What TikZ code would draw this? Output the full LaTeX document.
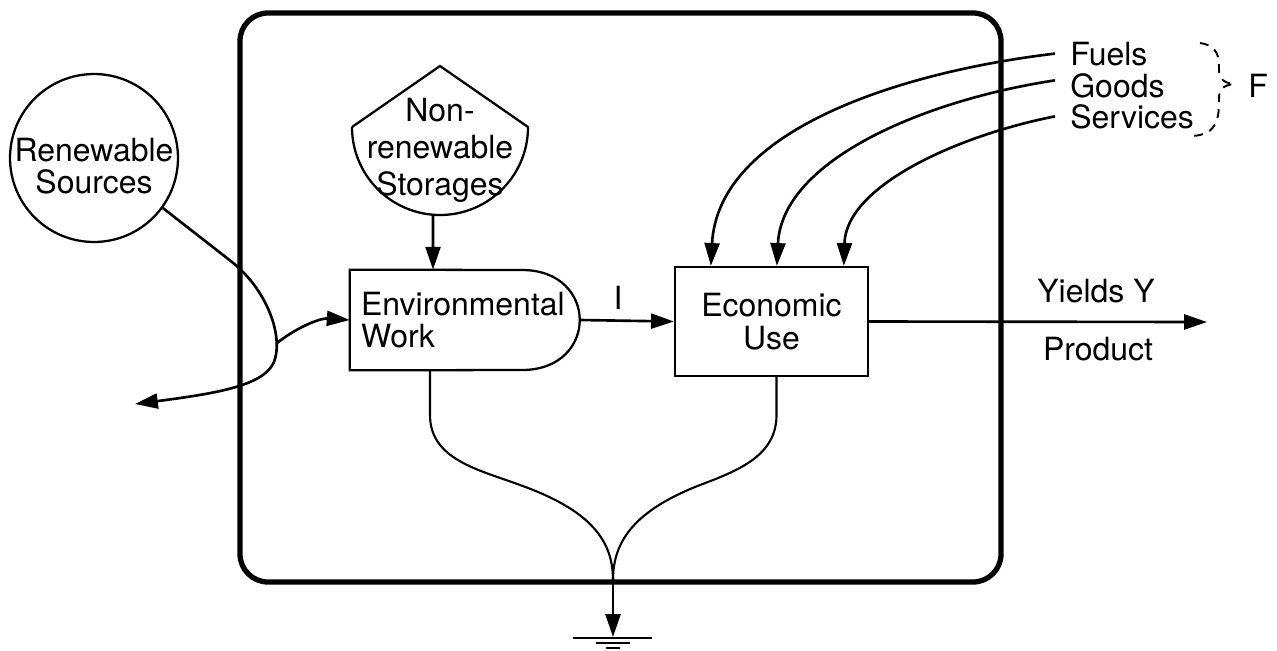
\documentclass[tikz,border=0pt]{standalone}
\usepackage{fontspec}
\setmainfont{TeX Gyre Heros}
\usetikzlibrary{arrows.meta}
\begin{document}
\begin{tikzpicture}[x=0.02cm,y=-0.02cm,
  txt/.style={font=\fontsize{18.2}{18.5}\selectfont, inner sep=0pt},
  flow/.style={line width=1.5pt, -{Triangle[length=13pt,width=8.5pt]}},
  thinline/.style={line width=1.2pt},
  outline/.style={line width=1.3pt},
  bracedash/.style={line width=1.1pt, dash pattern=on 5pt off 4pt}
  ]
\useasboundingbox (0,0) rectangle (1277,650);

% system boundary
\draw[line width=3pt, rounded corners=0.56cm] (240,13) rectangle (1001,582);

% renewable sources
\node[circle, draw, outline, minimum size=3.36cm, inner sep=0pt] (rs) at (94,158) {};
\node[txt, align=center] (rst) at (94,166) {Renewable\\Sources};

% nonrenewable storages (tank)
\draw[outline] (352,127) -- (440,66) -- (528,127)
  .. controls (528,175.6) and (488.6,215) .. (440,215)
  .. controls (391.4,215) and (352,175.6) .. (352,127);
\node[txt, font=\fontsize{18.2}{21}\selectfont, align=center] (nrs) at (440,150) {Non-\\renewable\\Storages};
\coordinate (nrsb) at (433,215);

% environmental work
\node[txt, minimum width=4.6cm, minimum height=2cm, text width=4.16cm, inner xsep=0.22cm, align=left] (ew) at (465,320) {Environmental\\Work};
\draw[outline] (ew.north west) -- (522,270) .. controls (599,270) and (599,370) .. (522,370) -- (ew.south west) -- cycle;

% economic use
\node[txt, draw, outline, minimum width=3.86cm, minimum height=2.18cm, align=center] (eu) at (771.5,321.5) {Economic\\Use};

% flows
\draw[flow] (nrsb) -- ([xshift=-0.64cm]ew.north);
\draw[flow] (ew.east) -- (eu.west);
\node[txt, anchor=base] (lbl) at (618,309) {I};

\coordinate (yend) at (1207,322);
\draw[flow] (eu.east) -- (yend);
\node[txt, anchor=base] (yl) at (1096,302) {Yields Y};
\node[txt, anchor=base] (pl) at (1098,360) {Product};

% renewable loop
\coordinate (lp) at (277,343);
\coordinate (out) at (135,404);
\draw[flow] (rs.-36) -- (232,262) .. controls (266,289) and (284,335) .. (274,362) .. controls (264,385) and (220,393) .. (out);
\draw[flow] (lp) .. controls (300,325) and (322,318) .. (ew.west);

% purchased inputs
\node[txt, anchor=base west] (fu) at (1070,65) {Fuels};
\node[txt, anchor=base west] (go) at (1070,97) {Goods};
\node[txt, anchor=base west] (se) at (1070,128) {Services};
\node[txt, anchor=base west] (ff) at (1248,97) {F};

\draw[flow] ([xshift=-0.3cm]fu.west) .. controls (900,72) and (718,130) .. ([xshift=0.74cm]eu.north west);
\draw[flow] ([xshift=-0.3cm,yshift=0.1cm]go.west) .. controls (925,100) and (782,160) .. ([xshift=2.06cm]eu.north west);
\draw[flow] ([xshift=-0.3cm]se.west) .. controls (960,135) and (846,185) .. ([xshift=3.4cm]eu.north west);

\draw[bracedash] (1200,43) .. controls (1219,46) and (1219,58) .. (1219,70)
  .. controls (1219,79) and (1224,83) .. (1234,84)
  .. controls (1224,85) and (1219,89) .. (1219,98)
  .. controls (1219,118) and (1218,134) .. (1193,136);

% heat sink
\coordinate (ewb) at ([xshift=-0.7cm]ew.south);
\coordinate (eub) at ([xshift=0.1cm]eu.south);
\coordinate (jn) at (613,580);
\coordinate (gnd) at (613,637);
\draw[thinline] (ewb) -- (430,415) .. controls (430,460) and (480,470) .. (520,485) .. controls (590,510) and (613,540) .. (jn);
\draw[thinline] (eub) -- (776.5,415) .. controls (776.5,455) and (740,470) .. (700,485) .. controls (636,510) and (613,540) .. (jn);
\draw[flow] (jn) -- (gnd);
\draw[thinline] (573,638) -- (652,638);
\draw[thinline] (596,643) -- (630,643);
\draw[thinline] (606,648) -- (620,648);
\end{tikzpicture}
\end{document}
